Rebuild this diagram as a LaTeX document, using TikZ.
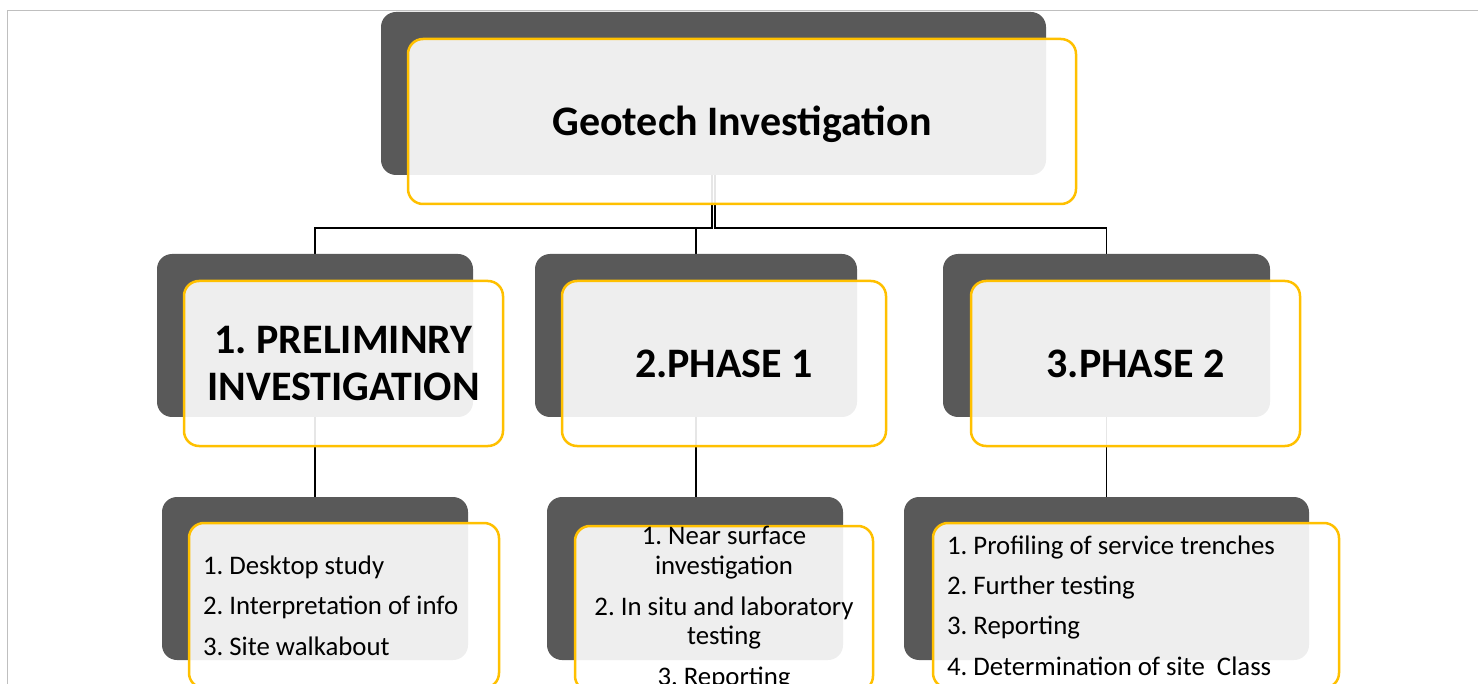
\documentclass[tikz,border=0pt]{standalone}
\usepackage{fontspec}
\setmainfont{Carlito}
\definecolor{darkgrey}{HTML}{595959}
\definecolor{gold}{HTML}{FFC000}
\definecolor{framegrey}{HTML}{BFBFBF}
\pgfdeclarelayer{bg}
\pgfsetlayers{bg,main}
\begin{document}
\frenchspacing
\begin{tikzpicture}[x=1pt,y=-1pt,
  back/.style={draw=none, fill=darkgrey, rounded corners=15pt, inner sep=0pt, outer sep=0pt},
  front/.style={draw=gold, line width=2.5pt, fill=white, fill opacity=0.9, text opacity=1,
                rounded corners=15pt, inner sep=0pt, outer sep=0pt, text=black},
  titletext/.style={font=\fontsize{42}{48}\selectfont\bfseries},
  phasetext/.style={font=\fontsize{42}{47}\selectfont\bfseries, align=flush center},
  link/.style={line width=1.3pt, draw=black}]
\useasboundingbox (0,0) rectangle (1478,684);
\clip (0,0) rectangle (1478,684);
\draw[framegrey, line width=1.3pt] (7.5,700) -- (7.5,10.5) -- (1500,10.5);

% top
\node[back, minimum width=665pt, minimum height=163pt] (d0) at (713.5,93.5) {};
\node[front, minimum width=668pt, minimum height=165pt, titletext] (y0) at (742,121.5) {\raisebox{-3pt}[\height][\depth]{Geotech Investigation}};

% level 2
\node[back, minimum width=316pt, minimum height=163pt] (d1) at (315,335.5) {};
\node[front, minimum width=319pt, minimum height=165pt, phasetext] (y1) at (343.5,363.5) {1. PRELIMINRY\\INVESTIGATION};
\node[back, minimum width=322pt, minimum height=163pt] (d2) at (696,335.5) {};
\node[front, minimum width=324pt, minimum height=165pt, phasetext] (y2) at (724,363.5) {2.PHASE 1};
\node[back, minimum width=327pt, minimum height=163pt] (d3) at (1106.5,335.5) {};
\node[front, minimum width=329pt, minimum height=165pt, phasetext] (y3) at (1135.5,363.5) {3.PHASE 2};

% level 3
\node[back, minimum width=306pt, minimum height=163pt] (e1) at (315,578.5) {};
\node[front, minimum width=310pt, minimum height=165pt, font=\fontsize{26.8}{40.5}\selectfont, text width=282pt, align=flush left] (z1) at (344,605.5)
  {1. Desktop study\\2. Interpretation of info\\3. Site walkabout};
\node[back, minimum width=296pt, minimum height=163pt] (e2) at (695,578.5) {};
\node[front, minimum width=298pt, minimum height=165pt, font=\fontsize{26.8}{29.5}\selectfont, align=flush center] (z2) at (724,608.5)
  {1. Near surface\\investigation\\[11.5pt]2. In situ and laboratory\\testing\\[11.5pt]3. Reporting};
\node[back, minimum width=405pt, minimum height=163pt] (e3) at (1106.5,578.5) {};
\node[front, minimum width=406pt, minimum height=165pt, font=\fontsize{26.8}{40.3}\selectfont, text width=378pt, align=flush left] (z3) at (1136,605.5)
  {1. Profiling of service trenches\\2. Further testing\\3. Reporting\\4. Determination of site\ \ Class};

\begin{pgfonlayer}{bg}
  \draw[link] ([xshift=-1.5pt]d0.south) -- ++(0,53) -| (d1.north);
  \draw[link] ([xshift=-1.5pt]d0.south) -- ++(0,53) -| (d2.north);
  \draw[link] ([xshift=1.5pt]d0.south) -- ++(0,53) -| (d3.north);
  \draw[link] (d1.south) -- (e1.north);
  \draw[link] (d2.south) -- (d2.south |- e2.north);
  \draw[link] (d3.south) -- (e3.north);
\end{pgfonlayer}
\end{tikzpicture}
\end{document}
